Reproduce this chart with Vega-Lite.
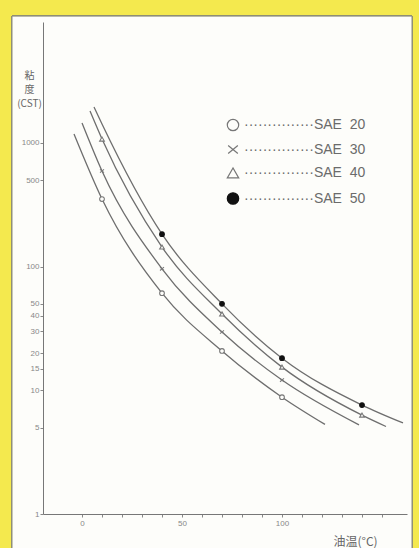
{
  "$schema": "https://vega.github.io/schema/vega-lite/v6.json",
  "width": 364,
  "height": 492,
  "autosize": "none",
  "padding": {"left": 43, "top": 22, "right": 12, "bottom": 34},
  "background": "#F4E94E",
  "config": {"view": {"stroke": null}, "font": "Liberation Sans", "axis": {"labelOverlap": false}},
  "datasets": {
    "curves": [
      {"series": "SAE 20", "temp": -4, "visc": 1180},
      {"series": "SAE 20", "temp": 10, "visc": 352},
      {"series": "SAE 20", "temp": 40, "visc": 61},
      {"series": "SAE 20", "temp": 70, "visc": 20.8},
      {"series": "SAE 20", "temp": 100, "visc": 8.8},
      {"series": "SAE 20", "temp": 121.5, "visc": 5.3},
      {"series": "SAE 30", "temp": 0, "visc": 1450},
      {"series": "SAE 30", "temp": 10, "visc": 593},
      {"series": "SAE 30", "temp": 40, "visc": 96},
      {"series": "SAE 30", "temp": 70, "visc": 29.6},
      {"series": "SAE 30", "temp": 100, "visc": 12.1},
      {"series": "SAE 30", "temp": 138.5, "visc": 5.25},
      {"series": "SAE 40", "temp": 4, "visc": 1810},
      {"series": "SAE 40", "temp": 10, "visc": 1075},
      {"series": "SAE 40", "temp": 40, "visc": 144},
      {"series": "SAE 40", "temp": 70, "visc": 41.4},
      {"series": "SAE 40", "temp": 100, "visc": 15.4},
      {"series": "SAE 40", "temp": 140, "visc": 6.3},
      {"series": "SAE 40", "temp": 152, "visc": 5.1},
      {"series": "SAE 50", "temp": 6, "visc": 1950},
      {"series": "SAE 50", "temp": 10, "visc": 1420},
      {"series": "SAE 50", "temp": 40, "visc": 183},
      {"series": "SAE 50", "temp": 70, "visc": 50},
      {"series": "SAE 50", "temp": 100, "visc": 18.2},
      {"series": "SAE 50", "temp": 140, "visc": 7.6},
      {"series": "SAE 50", "temp": 160.5, "visc": 5.45}
    ],
    "markers": [
      {"series": "SAE 20", "temp": 10, "visc": 352},
      {"series": "SAE 20", "temp": 40, "visc": 61},
      {"series": "SAE 20", "temp": 70, "visc": 20.8},
      {"series": "SAE 20", "temp": 100, "visc": 8.8},
      {"series": "SAE 30", "temp": 10, "visc": 593},
      {"series": "SAE 30", "temp": 40, "visc": 96},
      {"series": "SAE 30", "temp": 70, "visc": 29.6},
      {"series": "SAE 30", "temp": 100, "visc": 12.1},
      {"series": "SAE 40", "temp": 10, "visc": 1075},
      {"series": "SAE 40", "temp": 40, "visc": 144},
      {"series": "SAE 40", "temp": 70, "visc": 41.4},
      {"series": "SAE 40", "temp": 100, "visc": 15.4},
      {"series": "SAE 40", "temp": 140, "visc": 6.3},
      {"series": "SAE 50", "temp": 40, "visc": 183},
      {"series": "SAE 50", "temp": 70, "visc": 50},
      {"series": "SAE 50", "temp": 100, "visc": 18.2},
      {"series": "SAE 50", "temp": 140, "visc": 7.6}
    ]
  },
  "layer": [
    {
      "data": {"name": "curves"},
      "mark": {"type": "rect", "fill": "#FDFDFA", "stroke": "#8f8f78", "strokeWidth": 1, "clip": false},
      "encoding": {
        "x": {"datum": -35, "type": "quantitative", "scale": {"domain": [-19.5, 162.5], "nice": false, "zero": false},
          "axis": {
            "zindex": 1,
            "values": [0, 10, 20, 30, 40, 50, 60, 70, 80, 90, 100, 110, 120, 130, 140, 150],
            "labelExpr": "datum.value == 0 || datum.value == 50 || datum.value == 100 ? datum.label : ''",
            "labelOverlap": false,
            "grid": false, "domainColor": "#777", "tickColor": "#888", "tickSize": 3,
            "labelColor": "#888", "labelFontSize": 8, "labelPadding": 2, "labelFont": "Liberation Sans",
            "title": "油温(°C)", "titleFont": "Noto Sans CJK JP", "titleFontSize": 12, "titleFontWeight": "normal",
            "titleColor": "#666", "titleX": 312, "titleY": 27, "titleAlign": "center", "titleBaseline": "middle"
          }},
        "x2": {"datum": 165},
        "y": {"datum": 10600, "type": "quantitative", "scale": {"type": "log", "domain": [1, 9500], "nice": false},
          "axis": {
            "zindex": 1,
            "values": [1, 5, 10, 15, 20, 30, 40, 50, 100, 500, 1000],
            "format": "d",
            "labelOverlap": false,
            "grid": false, "domainColor": "#777", "tickColor": "#888", "tickSize": 3,
            "labelColor": "#888", "labelFontSize": 8, "labelPadding": 1, "labelFont": "Liberation Sans",
            "title": ["粘", "度", "(CST)"], "titleFont": "Noto Sans CJK JP", "titleFontSize": 10,
            "titleFontWeight": "normal", "titleColor": "#666", "titleAngle": 0, "titleLineHeight": 14,
            "titleX": -14, "titleY": 48, "titleAlign": "center", "titleBaseline": "top"
          }},
        "y2": {"datum": 0.5}
      }
    },
    {
      "data": {"name": "curves"},
      "mark": {"type": "line", "interpolate": "monotone", "stroke": "#6e6e6e", "strokeWidth": 1.3},
      "encoding": {
        "x": {
          "field": "temp", "type": "quantitative",
          "scale": {"domain": [-19.5, 162.5], "nice": false, "zero": false},
          "axis": {
            "zindex": 1,
            "values": [0, 10, 20, 30, 40, 50, 60, 70, 80, 90, 100, 110, 120, 130, 140, 150],
            "labelExpr": "datum.value == 0 || datum.value == 50 || datum.value == 100 ? datum.label : ''",
            "labelOverlap": false,
            "grid": false, "domainColor": "#777", "tickColor": "#888", "tickSize": 3,
            "labelColor": "#888", "labelFontSize": 8, "labelPadding": 2, "labelFont": "Liberation Sans",
            "title": "油温(°C)", "titleFont": "Noto Sans CJK JP", "titleFontSize": 12, "titleFontWeight": "normal",
            "titleColor": "#666", "titleX": 312, "titleY": 27, "titleAlign": "center", "titleBaseline": "middle"
          }
        },
        "y": {
          "field": "visc", "type": "quantitative",
          "scale": {"type": "log", "domain": [1, 9500], "nice": false},
          "axis": {
            "zindex": 1,
            "values": [1, 5, 10, 15, 20, 30, 40, 50, 100, 500, 1000],
            "format": "d",
            "labelOverlap": false,
            "grid": false, "domainColor": "#777", "tickColor": "#888", "tickSize": 3,
            "labelColor": "#888", "labelFontSize": 8, "labelPadding": 1, "labelFont": "Liberation Sans",
            "title": ["粘", "度", "(CST)"], "titleFont": "Noto Sans CJK JP", "titleFontSize": 10,
            "titleFontWeight": "normal", "titleColor": "#666", "titleAngle": 0, "titleLineHeight": 14,
            "titleX": -14, "titleY": 48, "titleAlign": "center", "titleBaseline": "top"
          }
        },
        "detail": {"field": "series", "type": "nominal"}
      }
    },
    {
      "data": {"name": "markers"},
      "mark": {"type": "point", "filled": true, "size": 22, "strokeWidth": 1.1, "opacity": 1},
      "encoding": {
        "x": {"field": "temp", "type": "quantitative", "scale": {"domain": [-19.5, 162.5], "nice": false, "zero": false},
          "axis": {
            "zindex": 1,
            "values": [0, 10, 20, 30, 40, 50, 60, 70, 80, 90, 100, 110, 120, 130, 140, 150],
            "labelExpr": "datum.value == 0 || datum.value == 50 || datum.value == 100 ? datum.label : ''",
            "labelOverlap": false,
            "grid": false, "domainColor": "#777", "tickColor": "#888", "tickSize": 3,
            "labelColor": "#888", "labelFontSize": 8, "labelPadding": 2, "labelFont": "Liberation Sans",
            "title": "油温(°C)", "titleFont": "Noto Sans CJK JP", "titleFontSize": 12, "titleFontWeight": "normal",
            "titleColor": "#666", "titleX": 312, "titleY": 27, "titleAlign": "center", "titleBaseline": "middle"
          }},
        "y": {"field": "visc", "type": "quantitative", "scale": {"type": "log", "domain": [1, 9500], "nice": false},
          "axis": {
            "zindex": 1,
            "values": [1, 5, 10, 15, 20, 30, 40, 50, 100, 500, 1000],
            "format": "d",
            "labelOverlap": false,
            "grid": false, "domainColor": "#777", "tickColor": "#888", "tickSize": 3,
            "labelColor": "#888", "labelFontSize": 8, "labelPadding": 1, "labelFont": "Liberation Sans",
            "title": ["粘", "度", "(CST)"], "titleFont": "Noto Sans CJK JP", "titleFontSize": 10,
            "titleFontWeight": "normal", "titleColor": "#666", "titleAngle": 0, "titleLineHeight": 14,
            "titleX": -14, "titleY": 48, "titleAlign": "center", "titleBaseline": "top"
          }},
        "shape": {
          "field": "series", "type": "nominal",
          "scale": {"domain": ["SAE 20", "SAE 30", "SAE 40", "SAE 50"], "range": ["circle", "M-0.85,-0.7L0.85,0.7M-0.85,0.7L0.85,-0.7", "triangle-up", "circle"]},
          "legend": {
            "title": null, "orient": "none", "legendX": 183, "legendY": 96, "padding": 0,
            "symbolSize": 130, "symbolStrokeWidth": 1.2, "rowPadding": 8.5, "labelOffset": 4,
            "labelFontSize": 14, "labelColor": "#6b6b6b", "labelFont": "Liberation Sans", "labelLimit": 300,
            "labelExpr": "'···············SAE\u00a0\u00a0' + slice(datum.label, 4)"
          }
        },
        "fill": {
          "field": "series", "type": "nominal",
          "scale": {"domain": ["SAE 20", "SAE 30", "SAE 40", "SAE 50"], "range": ["#FDFDFA", "#FDFDFA", "#FDFDFA", "#111111"]},
          "legend": {
            "title": null, "orient": "none", "legendX": 183, "legendY": 96, "padding": 0,
            "symbolSize": 130, "symbolStrokeWidth": 1.2, "rowPadding": 8.5, "labelOffset": 4,
            "labelFontSize": 14, "labelColor": "#6b6b6b", "labelFont": "Liberation Sans", "labelLimit": 300,
            "labelExpr": "'···············SAE\u00a0\u00a0' + slice(datum.label, 4)"
          }
        },
        "stroke": {
          "field": "series", "type": "nominal",
          "scale": {"domain": ["SAE 20", "SAE 30", "SAE 40", "SAE 50"], "range": ["#777777", "#777777", "#777777", "#111111"]},
          "legend": {
            "title": null, "orient": "none", "legendX": 183, "legendY": 96, "padding": 0,
            "symbolSize": 130, "symbolStrokeWidth": 1.2, "rowPadding": 8.5, "labelOffset": 4,
            "labelFontSize": 14, "labelColor": "#6b6b6b", "labelFont": "Liberation Sans", "labelLimit": 300,
            "labelExpr": "'···············SAE\u00a0\u00a0' + slice(datum.label, 4)"
          }
        }
      }
    }
  ]
}
